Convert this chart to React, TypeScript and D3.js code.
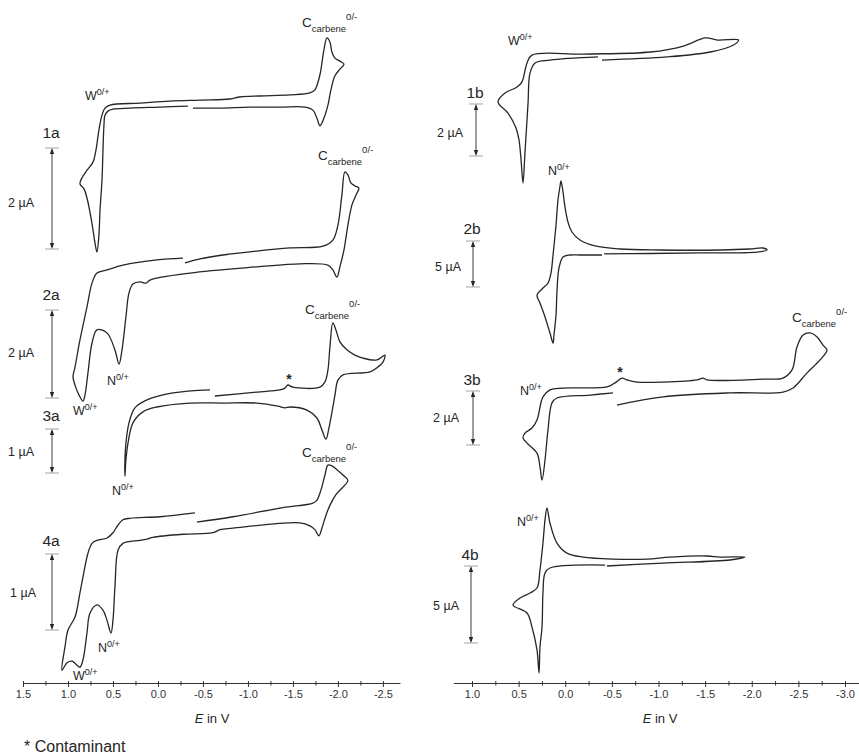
import * as d3 from 'd3';
import { useEffect, useRef } from 'react';

// potentials (V) and currents (µA, cathodic up)
const e1a = [-0.333, -0.022, 0.311, 0.5, 0.556, 0.589, 0.6, 0.611, 0.622, 0.644, 0.656, 0.678, 0.7, 0.722, 0.756, 0.789, 0.822, 0.867, 0.844, 0.789, 0.722, 0.689, 0.656, 0.622, 0.589, 0.533, 0.2, -0.133, -0.467, -0.8, -0.911, -1.133, -1.467, -1.689, -1.744, -1.8, -1.844, -1.878, -1.911, -1.933, -1.967, -2.022, -2.067, -2.022, -1.967, -1.922, -1.889, -1.844, -1.8, -1.767, -1.722, -1.633, -1.356, -1.022, -0.689, -0.389];
const i1a = [2.83, 2.81, 2.79, 2.77, 2.73, 2.65, 2.46, 1.96, 1.37, 0.77, 0.28, -0.06, 0.12, 0.38, 0.73, 1.01, 1.19, 1.29, 1.41, 1.56, 1.72, 1.96, 2.36, 2.65, 2.79, 2.85, 2.89, 2.93, 2.95, 2.97, 3.01, 3.03, 3.05, 3.09, 3.15, 3.45, 3.94, 4.18, 4.10, 3.90, 3.78, 3.72, 3.66, 3.56, 3.43, 3.15, 2.85, 2.59, 2.44, 2.59, 2.75, 2.81, 2.81, 2.81, 2.79, 2.79];

const e2a = [-0.3, -0.467, -0.722, -1.1, -1.467, -1.833, -1.944, -2.0, -2.044, -2.078, -2.111, -2.144, -2.189, -2.233, -2.2, -2.156, -2.111, -2.067, -2.022, -1.989, -1.944, -1.889, -1.578, -1.1, -0.356, 0.089, 0.133, 0.2, 0.278, 0.322, 0.356, 0.4, 0.433, 0.478, 0.567, 0.678, 0.733, 0.778, 0.811, 0.833, 0.878, 0.911, 0.944, 0.922, 0.867, 0.789, 0.733, 0.678, 0.567, 0.389, 0.011, -0.278];
const i2a = [3.07, 3.16, 3.25, 3.34, 3.41, 3.45, 3.59, 3.93, 4.61, 5.14, 5.07, 4.89, 4.82, 4.77, 4.61, 4.39, 3.93, 3.36, 2.98, 2.75, 2.91, 3.02, 3.05, 2.98, 2.84, 2.68, 2.61, 2.64, 2.59, 2.39, 1.84, 1.09, 0.77, 1.09, 1.48, 1.55, 1.25, 0.57, 0.07, -0.07, 0.07, 0.23, 0.48, 0.70, 1.32, 2.07, 2.61, 2.84, 2.91, 3.02, 3.14, 3.18];

const e3a = [-0.633, -1.1, -1.356, -1.411, -1.444, -1.5, -1.8, -1.856, -1.889, -1.911, -1.944, -1.978, -2.022, -2.1, -2.189, -2.278, -2.433, -2.522, -2.5, -2.444, -2.356, -2.056, -2.0, -1.967, -1.944, -1.9, -1.867, -1.822, -1.767, -1.656, -1.467, -1.411, -1.333, -1.1, -0.722, -0.356, 0.011, 0.167, 0.278, 0.333, 0.356, 0.367, 0.367, 0.356, 0.322, 0.256, 0.122, -0.167, -0.578];
const i3a = [1.75, 1.84, 1.89, 1.93, 2.0, 1.95, 1.95, 2.07, 2.34, 2.86, 3.41, 3.25, 2.98, 2.80, 2.68, 2.61, 2.57, 2.68, 2.52, 2.41, 2.30, 2.23, 2.11, 1.77, 1.5, 1.02, 0.77, 0.98, 1.25, 1.43, 1.5, 1.48, 1.52, 1.59, 1.59, 1.59, 1.5, 1.39, 1.14, 0.68, 0.30, -0.07, 0.30, 0.68, 1.14, 1.48, 1.66, 1.82, 1.89];

const e4a = [-0.433, -0.833, -1.389, -1.722, -1.767, -1.811, -1.856, -1.889, -1.933, -1.989, -2.056, -2.111, -2.056, -1.978, -1.911, -1.867, -1.822, -1.789, -1.744, -1.689, -1.578, -0.833, -0.689, -0.611, -0.278, 0.056, 0.111, 0.2, 0.389, 0.444, 0.478, 0.5, 0.522, 0.567, 0.611, 0.678, 0.756, 0.789, 0.833, 0.867, 0.911, 0.956, 1.011, 1.067, 1.033, 1.0, 0.922, 0.867, 0.833, 0.778, 0.733, 0.678, 0.567, 0.5, 0.456, 0.389, 0.311, -0.022, -0.411];
const i4a = [1.42, 1.49, 1.61, 1.67, 1.71, 1.84, 2.04, 2.17, 2.16, 2.11, 2.04, 1.97, 1.88, 1.78, 1.64, 1.51, 1.34, 1.24, 1.32, 1.37, 1.41, 1.34, 1.32, 1.28, 1.26, 1.22, 1.20, 1.18, 1.14, 1.05, 0.57, 0.13, -0.04, 0.13, 0.26, 0.33, 0.22, -0.04, -0.39, -0.49, -0.45, -0.41, -0.43, -0.53, -0.22, 0.0, 0.17, 0.49, 0.70, 1.01, 1.14, 1.18, 1.21, 1.28, 1.36, 1.45, 1.47, 1.49, 1.54];

const e1b = [-0.351, 0.164, 0.324, 0.378, 0.399, 0.432, 0.453, 0.474, 0.496, 0.528, 0.614, 0.721, 0.646, 0.517, 0.464, 0.410, 0.357, -0.196, -0.914, -1.268, -1.504, -1.633, -1.858, -1.804, -1.557, -1.091, -0.394];
const i1b = [3.81, 3.69, 3.58, 3.19, 2.04, 0.12, -1.04, -0.15, 0.62, 1.08, 1.65, 2.08, 2.42, 2.65, 2.85, 3.58, 3.88, 3.92, 4.0, 4.23, 4.54, 4.46, 4.46, 4.27, 4.0, 3.81, 3.69];

const e2b = [-0.394, -0.158, -0.051, 0.024, 0.067, 0.088, 0.099, 0.121, 0.131, 0.164, 0.217, 0.271, 0.303, 0.249, 0.185, 0.153, 0.131, 0.099, 0.078, 0.056, 0.046, 0.024, 0.003, -0.029, -0.072, -0.158, -0.319, -0.587, -1.016, -1.659, -1.981, -2.121, -2.164, -2.056, -1.445, -0.909, -0.416];
const i2b = [3.48, 3.48, 3.48, 3.26, 2.07, -0.33, -3.04, -5.22, -6.09, -5.0, -3.26, -1.74, -0.87, -0.22, 0.43, 1.52, 3.48, 6.74, 9.46, 10.98, 11.52, 10.33, 8.70, 7.07, 5.98, 5.11, 4.46, 4.13, 4.02, 4.02, 4.13, 4.24, 4.02, 3.80, 3.70, 3.64, 3.59];

const e3b = [-0.512, -0.265, 0.089, 0.142, 0.185, 0.217, 0.249, 0.271, 0.303, 0.410, 0.453, 0.432, 0.357, 0.303, 0.239, 0.164, 0.024, -0.447, -0.533, -0.609, -0.662, -0.770, -1.048, -1.413, -1.477, -1.520, -2.121, -2.335, -2.432, -2.485, -2.550, -2.625, -2.700, -2.764, -2.807, -2.732, -2.593, -2.443, -2.335, -1.766, -1.048, -0.555];
const i3b = [1.93, 1.85, 1.74, 1.56, 0.56, -0.56, -1.30, -0.81, -0.30, 0.07, 0.26, 0.44, 0.63, 0.93, 1.78, 2.04, 2.11, 2.15, 2.30, 2.48, 2.41, 2.33, 2.33, 2.41, 2.48, 2.41, 2.44, 2.48, 2.78, 3.63, 4.07, 4.15, 4.0, 3.70, 3.52, 3.15, 2.67, 2.11, 1.96, 1.93, 1.78, 1.48];

const e4b = [-0.426, 0.164, 0.217, 0.239, 0.249, 0.271, 0.281, 0.303, 0.357, 0.410, 0.560, 0.485, 0.378, 0.303, 0.271, 0.239, 0.217, 0.196, 0.164, 0.089, -0.018, -0.190, -0.512, -0.877, -1.123, -1.520, -1.659, -1.928, -1.767, -1.048, -0.447];
const i4b = [5.06, 4.87, 4.55, 3.25, 1.04, -0.26, -1.95, -0.45, 1.04, 1.95, 2.47, 2.92, 3.25, 3.57, 4.74, 6.49, 7.99, 8.77, 7.79, 6.49, 5.84, 5.58, 5.45, 5.45, 5.58, 5.65, 5.58, 5.58, 5.39, 5.19, 5.0];

const leftTicks = [1.5, 1.0, 0.5, 0.0, -0.5, -1.0, -1.5, -2.0, -2.5];
const rightTicks = [1.0, 0.5, 0.0, -0.5, -1.0, -1.5, -2.0, -2.5, -3.0];
const traceNames = ['1a', '2a', '3a', '4a', '1b', '2b', '3b', '4b'];
const scaleBarsUA = [2, 2, 1, 1, 2, 5, 2, 5];

const width = 859;
const height = 754;
const axisY = 683;
const font = 'Liberation Sans, Arial, Helvetica, sans-serif';
const ink = '#262626';

const xLeft = d3.scaleLinear().domain([1.5, -2.69]).range([23, 400]);
const xRight = d3.scaleLinear().domain([1.2, -3.2]).range([453.35, 863.65]);

// where each voltammogram and its scale bar sit
const layout = [
  { e: e1a, i: i1a, x: xLeft, barX: 52, top: 148, bottom: 249, nameY: 138, uaX: 8, uaY: 207 },
  { e: e2a, i: i2a, x: xLeft, barX: 52, top: 310, bottom: 398, nameY: 300, uaX: 8, uaY: 357 },
  { e: e3a, i: i3a, x: xLeft, barX: 52, top: 429, bottom: 473, nameY: 421, uaX: 8, uaY: 456 },
  { e: e4a, i: i4a, x: xLeft, barX: 52, top: 554, bottom: 630, nameY: 546, uaX: 10, uaY: 597 },
  { e: e1b, i: i1b, x: xRight, barX: 476, top: 104, bottom: 156, nameY: 98, uaX: 437, uaY: 137 },
  { e: e2b, i: i2b, x: xRight, barX: 473, top: 241, bottom: 287, nameY: 234, uaX: 435, uaY: 271 },
  { e: e3b, i: i3b, x: xRight, barX: 473, top: 391, bottom: 445, nameY: 385, uaX: 433, uaY: 422 },
  { e: e4b, i: i4b, x: xRight, barX: 471, top: 566, bottom: 643, nameY: 560, uaX: 433, uaY: 610 },
];

const peakLabels = [
  { base: 'W', sup: '0/+', x: 85, y: 100 },
  { base: 'W', sup: '0/+', x: 73, y: 415 },
  { base: 'N', sup: '0/+', x: 107, y: 385 },
  { base: 'N', sup: '0/+', x: 112, y: 495 },
  { base: 'N', sup: '0/+', x: 98, y: 652 },
  { base: 'W', sup: '0/+', x: 73, y: 680 },
  { base: 'W', sup: '0/+', x: 508, y: 45 },
  { base: 'N', sup: '0/+', x: 548, y: 175 },
  { base: 'N', sup: '0/+', x: 520, y: 395 },
  { base: 'N', sup: '0/+', x: 517, y: 526 },
];
const carbeneLabels = [
  { x: 302, y: 27 },
  { x: 318, y: 160 },
  { x: 305, y: 314 },
  { x: 302, y: 457 },
  { x: 792, y: 322 },
];
const stars = [
  { x: 289, y: 384 },
  { x: 620, y: 377 },
];

function Trace({ t }) {
  const y = d3.scaleLinear().domain([0, 1]).range([t.bottom, t.top]);
  const line = d3.line()
    .x(d => t.x(d[0]))
    .y(d => y(d[1] / t.ua))
    .curve(d3.curveCatmullRom.alpha(0.5));
  return <path d={line(d3.zip(t.e, t.i))} fill="none" stroke={ink} strokeWidth={1.3} strokeLinejoin="round" />;
}

function ScaleBar({ t }) {
  const x = t.barX;
  return <g>
    <line x1={x - 7} x2={x + 7} y1={t.top} y2={t.top} stroke="#999" strokeWidth={0.9} />
    <line x1={x - 7} x2={x + 7} y1={t.bottom} y2={t.bottom} stroke="#999" strokeWidth={0.9} />
    <line x1={x} x2={x} y1={t.top + 2} y2={t.bottom - 2} stroke={ink} strokeWidth={0.9} />
    <path d={`M${x},${t.top}L${x - 2.2},${t.top + 6}L${x + 2.2},${t.top + 6}Z`} fill={ink} />
    <path d={`M${x},${t.bottom}L${x - 2.2},${t.bottom - 6}L${x + 2.2},${t.bottom - 6}Z`} fill={ink} />
    <text x={t.barX - 1} y={t.nameY} fontSize={15.5} textAnchor="middle" fill={ink}>{t.name}</text>
    <text x={t.uaX} y={t.uaY} fontSize={12.5} fill={ink}>{t.ua} µA</text>
  </g>;
}

function App() {
  const leftAxis = useRef(null);
  const rightAxis = useRef(null);

  useEffect(() => {
    const fmt = d => d.toFixed(1);
    const setups = [[leftAxis, xLeft, leftTicks], [rightAxis, xRight, rightTicks]];
    setups.forEach(([ref, x, ticks]) => {
      const g = d3.select(ref.current);
      g.selectAll('*').remove();
      const minor = ticks.slice(1).map((v, k) => (v + ticks[k]) / 2);
      g.append('g').call(d3.axisBottom(x).tickValues(ticks).tickSize(4).tickSizeOuter(0).tickPadding(3).tickFormat(fmt));
      const mg = g.append('g').call(d3.axisBottom(x).tickValues(minor).tickSize(2.5).tickFormat(() => ''));
      mg.select('.domain').remove();
      g.selectAll('.tick line').attr('y1', -2).attr('stroke', '#333');
      g.selectAll('.domain').attr('stroke', '#333');
      g.selectAll('text').attr('font-size', 11).attr('font-family', font).attr('fill', '#333');
    });
  }, []);

  const traces = layout.map((l, k) => ({ ...l, name: traceNames[k], ua: scaleBarsUA[k] }));

  return <svg width={width} height={height} style={{ position: 'absolute', left: 0, top: 0, background: '#fff' }} fontFamily={font}>
    {traces.map(t => <Trace key={t.name} t={t} />)}
    {traces.map(t => <ScaleBar key={t.name} t={t} />)}

    {peakLabels.map((p, k) => <text key={k} x={p.x} y={p.y} fontSize={12.5} fill={ink}>
      {p.base}<tspan fontSize={9} dy={-5}>{p.sup}</tspan>
    </text>)}
    {carbeneLabels.map((c, k) => <text key={k} x={c.x} y={c.y} fontSize={13.5} fill={ink}>
      C<tspan fontSize={9.5} dy={5}>carbene</tspan><tspan fontSize={9.5} dy={-12}>0/-</tspan>
    </text>)}
    {stars.map((s, k) => <text key={k} x={s.x} y={s.y} fontSize={14} fontWeight="bold" textAnchor="middle" fill={ink}>*</text>)}

    <g ref={leftAxis} transform={`translate(0,${axisY})`} />
    <g ref={rightAxis} transform={`translate(0,${axisY})`} />

    <text x={212} y={723} fontSize={13} textAnchor="middle" fill={ink}><tspan fontStyle="italic">E</tspan> in V</text>
    <text x={660} y={723} fontSize={13} textAnchor="middle" fill={ink}><tspan fontStyle="italic">E</tspan> in V</text>
    <text x={24} y={752} fontSize={16} fill={ink}>* Contaminant</text>
  </svg>;
}

export default App;
